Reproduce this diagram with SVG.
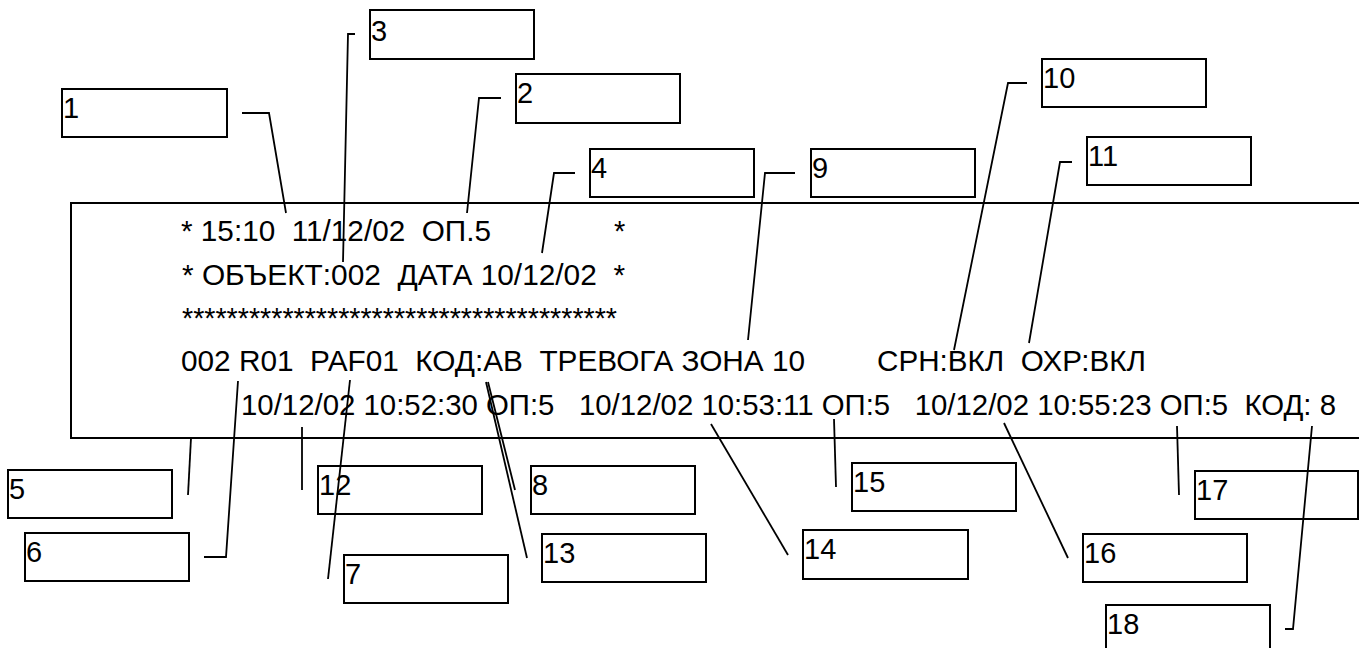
<svg xmlns="http://www.w3.org/2000/svg" width="1359" height="648" viewBox="0 0 1359 648">
<style>
.bg{fill:#fff}
.box{fill:none;stroke:#000;stroke-width:2}
.lbl{font-family:"Liberation Sans",Arial,sans-serif;font-size:29px;fill:#000}
.t{font-family:"Liberation Sans",Arial,sans-serif;font-size:29px;fill:#000;white-space:pre}
.c{fill:none;stroke:#000;stroke-width:1.8;stroke-linejoin:miter}
</style>
<rect class="bg" x="0" y="0" width="1359" height="648"/>
<g id="printout">
<rect class="box" x="71" y="203" width="1320" height="235"/>
<text class="t" x="181" y="241" textLength="310" lengthAdjust="spacingAndGlyphs" xml:space="preserve">* 15:10  11/12/02  ОП.5</text>
<text class="t" x="614" y="241">*</text>
<text class="t" x="182" y="285" textLength="443" lengthAdjust="spacingAndGlyphs" xml:space="preserve">* ОБЪЕКТ:002  ДАТА 10/12/02  *</text>
<text class="t" x="182" y="328" textLength="435" lengthAdjust="spacingAndGlyphs">***************************************</text>
<text class="t" x="181" y="371" textLength="624" lengthAdjust="spacingAndGlyphs" xml:space="preserve">002 R01  PAF01  КОД:АВ  ТРЕВОГА ЗОНА 10</text>
<text class="t" x="877" y="371" textLength="269" lengthAdjust="spacingAndGlyphs" xml:space="preserve">СРН:ВКЛ  ОХР:ВКЛ</text>
<text class="t" x="241" y="415" textLength="1095" lengthAdjust="spacingAndGlyphs" xml:space="preserve">10/12/02 10:52:30 ОП:5   10/12/02 10:53:11 ОП:5   10/12/02 10:55:23 ОП:5  КОД: 8</text>
</g>
<g id="connectors">
<polyline class="c" points="242,113 269,113 286,213"/>
<polyline class="c" points="501,98 479,98 467,213"/>
<polyline class="c" points="355,34 348,34 343,262"/>
<polyline class="c" points="575,173 554,173 542,253"/>
<polyline class="c" points="795,173 765,173 748,340"/>
<polyline class="c" points="1027,83 1008,83 954,350"/>
<polyline class="c" points="1072,162 1060,162 1029,343"/>
<line class="c" x1="191" y1="438" x2="188" y2="495"/>
<polyline class="c" points="238,381 226,557 204,557"/>
<line class="c" x1="302" y1="427" x2="302" y2="490"/>
<line class="c" x1="350" y1="380" x2="328" y2="579"/>
<line class="c" x1="488" y1="382" x2="515" y2="490"/>
<line class="c" x1="486" y1="382" x2="527" y2="558"/>
<line class="c" x1="711" y1="424" x2="788" y2="555"/>
<line class="c" x1="834" y1="419" x2="836" y2="487"/>
<line class="c" x1="1004" y1="423" x2="1068" y2="558"/>
<line class="c" x1="1177" y1="426" x2="1179" y2="495"/>
<polyline class="c" points="1312,426 1293,629 1285,629"/>
</g>
<g id="n1"><rect class="box" x="62" y="89" width="165" height="48"/><text class="lbl" x="63" y="118">1</text></g>
<g id="n2"><rect class="box" x="516" y="74" width="164" height="49"/><text class="lbl" x="517" y="103">2</text></g>
<g id="n3"><rect class="box" x="370" y="10" width="164" height="49"/><text class="lbl" x="371" y="41">3</text></g>
<g id="n4"><rect class="box" x="590" y="149" width="164" height="48"/><text class="lbl" x="591" y="178">4</text></g>
<g id="n5"><rect class="box" x="8" y="470" width="164" height="48"/><text class="lbl" x="9" y="499">5</text></g>
<g id="n6"><rect class="box" x="25" y="533" width="164" height="48"/><text class="lbl" x="26" y="562">6</text></g>
<g id="n7"><rect class="box" x="344" y="555" width="164" height="48"/><text class="lbl" x="345" y="584">7</text></g>
<g id="n8"><rect class="box" x="531" y="466" width="164" height="48"/><text class="lbl" x="532" y="495">8</text></g>
<g id="n9"><rect class="box" x="811" y="149" width="164" height="48"/><text class="lbl" x="812" y="178">9</text></g>
<g id="n10"><rect class="box" x="1042" y="59" width="164" height="48"/><text class="lbl" x="1043" y="88">10</text></g>
<g id="n11"><rect class="box" x="1087" y="137" width="164" height="48"/><text class="lbl" x="1088" y="166">11</text></g>
<g id="n12"><rect class="box" x="318" y="466" width="164" height="48"/><text class="lbl" x="319" y="495">12</text></g>
<g id="n13"><rect class="box" x="542" y="534" width="164" height="48"/><text class="lbl" x="543" y="563">13</text></g>
<g id="n14"><rect class="box" x="803" y="530" width="165" height="49"/><text class="lbl" x="804" y="559">14</text></g>
<g id="n15"><rect class="box" x="852" y="463" width="164" height="48"/><text class="lbl" x="853" y="492">15</text></g>
<g id="n16"><rect class="box" x="1083" y="534" width="164" height="48"/><text class="lbl" x="1084" y="563">16</text></g>
<g id="n17"><rect class="box" x="1195" y="471" width="163" height="48"/><text class="lbl" x="1196" y="500">17</text></g>
<g id="n18"><rect class="box" x="1106" y="605" width="164" height="48"/><text class="lbl" x="1107" y="634">18</text></g>
</svg>
